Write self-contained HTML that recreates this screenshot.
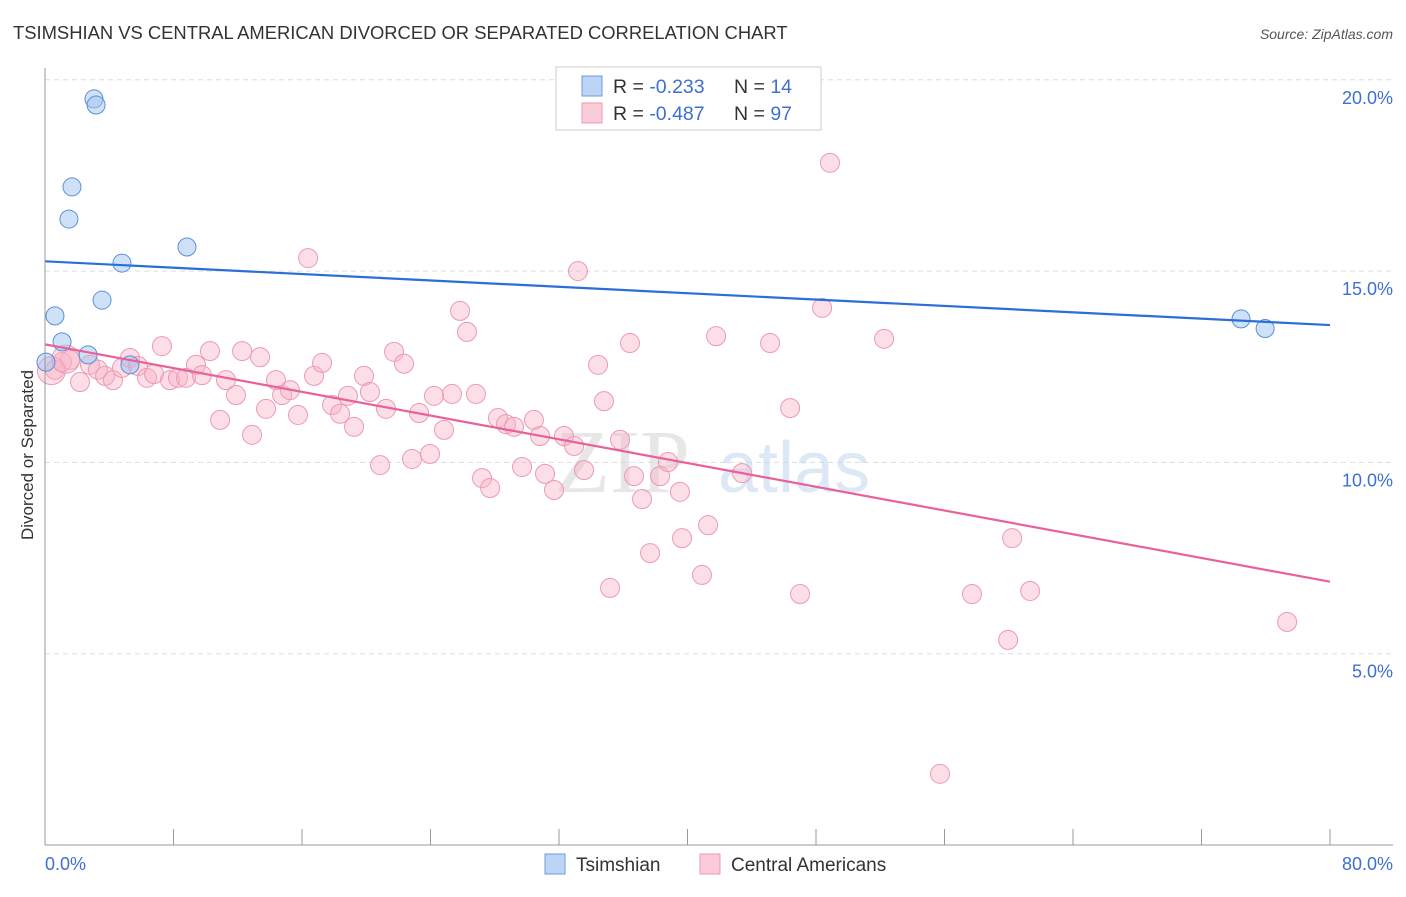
<!DOCTYPE html>
<html><head><meta charset="utf-8"><style>
body{margin:0;background:#fff;font-family:"Liberation Sans",sans-serif;}
</style></head><body>
<svg width="1406" height="892" xmlns="http://www.w3.org/2000/svg" style="font-family:'Liberation Sans',sans-serif">
<text x="13" y="39" font-size="18.4" fill="#333">TSIMSHIAN VS CENTRAL AMERICAN DIVORCED OR SEPARATED CORRELATION CHART</text>
<text x="1393" y="39" font-size="14" fill="#555" font-style="italic" text-anchor="end">Source: ZipAtlas.com</text>
<g id="grid"></g>
<text x="555" y="492" font-size="90" fill="#ccc" opacity="0.45" font-family="Liberation Serif,serif">ZIP</text>
<text x="718" y="492" font-size="72" fill="#bcd2ee" opacity="0.5">atlas</text>
<g id="pts"></g>
<g id="lines"></g>
<line x1="45" y1="68" x2="45" y2="845" stroke="#999"/>
<line x1="45" y1="845" x2="1393" y2="845" stroke="#999"/>
<text x="45" y="870" font-size="18" fill="#3f6fcf">0.0%</text>
<text x="1393" y="870" font-size="18" fill="#3f6fcf" text-anchor="end">80.0%</text>
<text transform="translate(33,455) rotate(-90)" font-size="17" fill="#333" text-anchor="middle">Divorced or Separated</text>
<g>
<rect x="556" y="67" width="265" height="63" fill="#fff" stroke="#ccc"/>
<rect x="582" y="76" width="20" height="20" fill="#bcd4f6" stroke="#6d9be0"/>
<rect x="582" y="103" width="20" height="20" fill="#fbcbd9" stroke="#ec9ab4"/>
<text x="613" y="93" font-size="19.5" fill="#333">R = <tspan fill="#3f6fcf">-0.233</tspan><tspan x="734">N = </tspan><tspan fill="#3f6fcf">14</tspan></text>
<text x="613" y="120" font-size="19.5" fill="#333">R = <tspan fill="#3f6fcf">-0.487</tspan><tspan x="734">N = </tspan><tspan fill="#3f6fcf">97</tspan></text>
</g>
<g>
<rect x="545" y="854" width="20" height="20" fill="#bcd4f6" stroke="#6d9be0"/>
<text x="576" y="871" font-size="19" fill="#333">Tsimshian</text>
<rect x="700" y="854" width="20" height="20" fill="#fbcbd9" stroke="#ec9ab4"/>
<text x="731" y="871" font-size="19" fill="#333">Central Americans</text>
</g>
</svg>
<script>
const yTicks=[5,10,15,20];
const yTickLabels=["5.0%","10.0%","15.0%","20.0%"];
const xTicks=[0,8,16,24,32,40,48,56,64,72,80];
const blueX=[0.06,0.62,1.06,1.49,1.68,2.68,3.05,3.18,3.55,4.79,5.29,8.84,74.46,75.96];
const blueY=[12.62,13.83,13.15,16.36,17.2,12.81,19.5,19.34,14.24,15.21,12.55,15.63,13.75,13.5];
const pinkX=[0.62,1.06,1.56,2.18,2.8,3.3,3.74,4.23,4.79,5.29,5.79,6.35,6.79,7.28,7.78,8.28,8.78,9.4,9.77,10.27,10.9,11.27,11.89,12.27,12.89,13.39,13.76,14.38,14.76,15.25,15.75,16.38,16.75,17.25,17.87,18.37,18.86,19.24,19.86,20.23,20.86,21.23,21.73,22.35,22.85,23.29,23.97,24.22,24.84,25.34,25.84,26.27,26.83,27.21,27.71,28.2,28.7,29.2,29.7,30.44,30.82,31.13,31.69,32.31,32.94,33.18,33.56,34.43,34.8,35.18,35.8,36.42,36.67,37.17,37.67,38.29,38.79,39.53,39.66,40.9,41.28,41.78,43.4,45.14,46.39,47.01,48.38,48.87,52.24,55.72,57.71,59.96,60.21,61.33,77.33,0.4,1.3];
const pinkY=[12.42,12.62,12.68,12.1,12.55,12.42,12.26,12.15,12.47,12.73,12.52,12.21,12.31,13.04,12.15,12.21,12.21,12.55,12.28,12.91,11.11,12.15,11.76,12.91,10.72,12.75,11.4,12.15,11.76,11.89,11.24,15.34,12.26,12.6,11.5,11.27,11.74,10.93,12.26,11.84,9.93,11.4,12.89,12.58,10.09,11.29,10.22,11.74,10.85,11.79,13.96,13.41,11.79,9.59,9.33,11.16,11.0,10.93,9.88,11.11,10.69,9.7,9.28,10.69,10.43,15.0,9.8,12.55,11.6,6.72,10.59,13.12,9.64,9.04,7.63,9.64,10.01,9.23,8.02,7.06,8.36,13.3,9.72,13.12,11.42,6.56,14.04,17.83,13.23,1.86,6.56,5.36,8.02,6.64,5.83,12.4,12.7];
const NS='http://www.w3.org/2000/svg';
const X=v=>45+v/80*1285;
const Y=v=>845-v*38.26;
function mk(t,a,p){const e=document.createElementNS(NS,t);for(const k in a)e.setAttribute(k,a[k]);p.appendChild(e);return e;}
const grid=document.getElementById('grid');
yTicks.forEach((t,i)=>{
 const l=mk('line',{x1:45,x2:1393,y1:Y(t),y2:Y(t),stroke:'#ddd','stroke-dasharray':'5,4'},grid);
 
 
 const tx=mk('text',{x:1393,y:Y(t)+24,'font-size':18,fill:'#3f6fcf','text-anchor':'end'},grid);
 tx.textContent=yTickLabels[i];
 
 
});
xTicks.forEach(t=>{
 const l=mk('line',{x1:X(t),x2:X(t),y1:829,y2:845,stroke:'#999'},grid);
 
 
});
const pts=document.getElementById('pts');
pinkX.forEach((x,i)=>{
 const big=i>=95;
 const c=mk('circle',{cx:X(x),cy:Y(pinkY[i]),r:big?14:9.5,fill:'rgba(248,176,198,0.42)',stroke:'#ec9ab4','stroke-width':1},pts);
 
 
});
blueX.forEach((x,i)=>{
 const c=mk('circle',{cx:X(x),cy:Y(blueY[i]),r:9,fill:'rgba(160,195,240,0.5)',stroke:'#5b8fd8','stroke-width':1},pts);
 
 
});
function fit(xs,ys){const n=xs.length;let mx=0,my=0;xs.forEach((x,i)=>{mx+=x;my+=ys[i];});mx/=n;my/=n;let sxy=0,sxx=0;xs.forEach((x,i)=>{sxy+=(x-mx)*(ys[i]-my);sxx+=(x-mx)*(x-mx);});const b=sxy/sxx;return [my-b*mx,b];}
const lines=document.getElementById('lines');
[[blueX,blueY,'#2a6fd6','tsimshian-trend'],[pinkX,pinkY,'#e8619a','central-american-trend']].forEach(s=>{
 const [a,b]=fit(s[0],s[1]);
 const l=mk('line',{x1:X(0),y1:Y(a),x2:X(80),y2:Y(a+b*80),stroke:s[2],'stroke-width':2.2},lines);
 
 
});
</script>
</body></html>
